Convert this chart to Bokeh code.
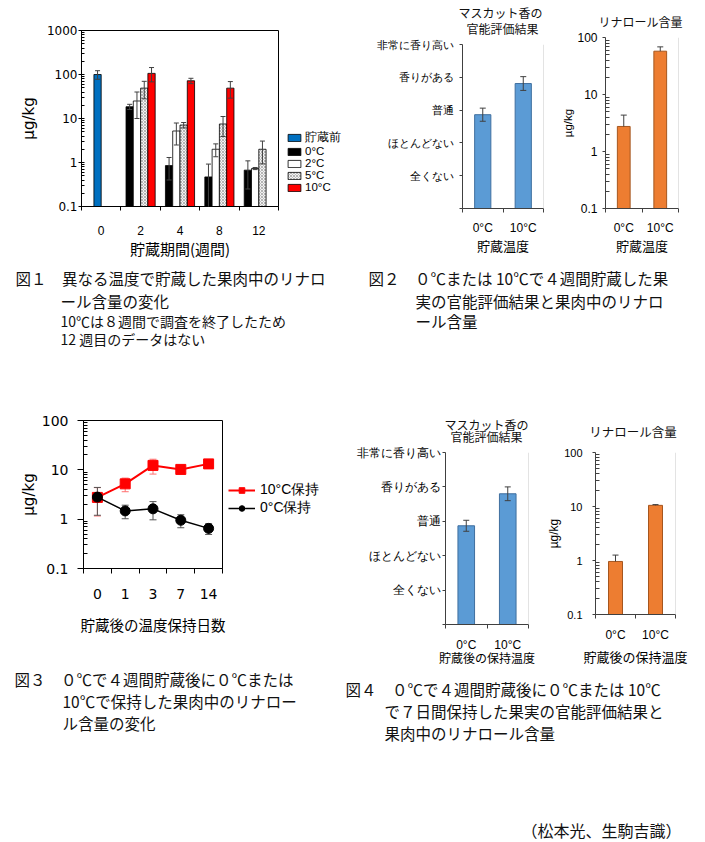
from bokeh.plotting import figure
from bokeh.models import (Range1d, FixedTicker, NumeralTickFormatter, Legend, LegendItem,
                          Whisker, TeeHead, ColumnDataSource, Span, Spacer)
from bokeh.layouts import row, column
from bokeh.embed import file_html
from bokeh.resources import INLINE
from bokeh.core.properties import value

JP = "Noto Sans CJK JP"
NUM = "DejaVu Sans"
LAT = "Liberation Sans"

# ---------------- data ----------------
# Fig.1  linalool (ug/kg) by storage period and temperature
weeks = ["0", "2", "4", "8", "12"]
series1 = ["貯蔵前", "0°C", "2°C", "5°C", "10°C"]
before_val = [100, None, None, None, None]
before_err = [22, None, None, None, None]
c0_val = [None, 18.5, 0.85, 0.47, 0.67]
c0_err = [None, 2.5, 0.45, 0.45, 0.42]
c2_val = [None, 25.0, 5.2, 2.0, 0.73]
c2_err = [None, 15.0, 2.7, 0.65, 0.04]
c5_val = [None, 49.0, 7.1, 7.5, 2.0]
c5_err = [None, 21.0, 1.0, 3.6, 1.07]
c10_val = [None, 106.0, 72.0, 49.0, None]
c10_err = [None, 38.0, 10.0, 20.0, None]

# Fig.2 / Fig.4  sensory score and linalool
sens_levels = ["全くない", "ほとんどない", "普通", "香りがある", "非常に香り高い"]
temps = ["0°C", "10°C"]
fig2_sens_val = [2.86, 3.81]
fig2_sens_err = [0.20, 0.21]
fig2_lin_val = [2.75, 57.5]
fig2_lin_err = [1.6, 11.0]
fig4_sens_val = [2.87, 3.80]
fig4_sens_err = [0.16, 0.20]
fig4_lin_val = [0.96, 10.5]
fig4_lin_err = [0.30, 0.35]

# Fig.3  holding after storage
days = ["0", "1", "3", "7", "14"]
series3 = ["10°C保持", "0°C保持"]
hold10_val = [2.76, 5.2, 12.3, 10.2, 13.2]
hold10_err = [1.6, 1.6, 4.1, 1.0, 1.2]
hold0_val = [2.8, 1.47, 1.62, 0.95, 0.65]
hold0_err = [1.6, 0.45, 0.65, 0.28, 0.16]

cap1 = ["図１　異なる温度で貯蔵した果肉中のリナロ", "ール含量の変化"]
cap1_note = ["10℃は８週間で調査を終了したため", "12 週目のデータはない"]
cap2 = ["図２　０℃または 10℃で４週間貯蔵した果", "実の官能評価結果と果肉中のリナロ", "ール含量"]
cap3 = ["図３　０℃で４週間貯蔵後に０℃または", "10℃で保持した果肉中のリナロー", "ル含量の変化"]
cap4 = ["図４　０℃で４週間貯蔵後に０℃または 10℃", "で７日間保持した果実の官能評価結果と", "果肉中のリナロール含量"]
authors = "（松本光、生駒吉識）"

sens_title = ["マスカット香の", "官能評価結果"]
lin_title = "リナロール含量"
y_unit = "µg/kg"

COMMON = dict(output_backend="svg", toolbar_location=None, frame_align=False)


# ---------------- helpers ----------------
def style_axis(ax, color="#000000"):
    ax.axis_line_color = color
    ax.major_tick_line_color = color
    ax.minor_tick_line_color = color
    ax.major_label_text_color = "#000000"
    ax.axis_label_text_color = "#000000"
    ax.axis_label_text_font_style = "normal"


def log_minor(lo, hi):
    return [m * 10.0 ** e for e in range(lo, hi) for m in range(2, 10)]


def canvas(x0, y0, w, h):
    c = figure(width=w, height=h, x_range=Range1d(x0, x0 + w), y_range=Range1d(y0 + h, y0),
               min_border=0, x_axis_location=None, y_axis_location=None, **COMMON)
    c.grid.visible = False
    c.outline_line_color = None
    return c


def put_text(c, xs, ys, texts, size, align="left", font=JP, color="#111111"):
    c.text(x=xs, y=ys, text=texts, text_font=value(font), text_font_size=value(size),
           text_baseline="middle", text_align=align, text_color=color)


def bar_src(vals, errs, offset, upper_only=False):
    xs, tops, lo, hi = [], [], [], []
    for i, (v, e) in enumerate(zip(vals, errs)):
        if v is None:
            continue
        xs.append(i + offset)
        tops.append(v)
        hi.append(v + e)
        lo.append(v if upper_only else v - e)
    return ColumnDataSource(dict(x=xs, top=tops, lower=lo, upper=hi))


def whisker(src, color, size=5, lower=True, level="annotation"):
    return Whisker(source=src, base="x", upper="upper", lower="lower", dimension="height",
                   line_color=color, line_width=1, level=level,
                   upper_head=TeeHead(size=size, line_color=color, line_width=1),
                   lower_head=TeeHead(size=size, line_color=color, line_width=1) if lower else None)


def legend_panel(w, h):
    f = figure(width=w, height=h, x_range=Range1d(0, 1), y_range=Range1d(0, 1), min_border=0,
               x_axis_location=None, y_axis_location=None, **COMMON)
    f.grid.visible = False
    f.outline_line_color = None
    return f


# off-frame, zero-size placeholders: they only lend their style to legend swatches
OFF = [-10.0]
OFF2 = [-10.0, -9.0]

# ---------------- Fig.1 ----------------
p1 = figure(width=274, height=262, x_range=Range1d(-0.5, 4.5), y_range=Range1d(0.1, 1000),
            y_axis_type="log", min_border_left=73, min_border_right=4, min_border_top=30,
            min_border_bottom=56, **COMMON)
p1.grid.visible = False
p1.outline_line_color = "#000000"

bw = 0.185
bar_styles = [
    dict(fill_color="#0070C0"),
    dict(fill_color="#000000"),
    dict(fill_color="#FFFFFF"),
    dict(fill_color="#F2F2F2", hatch_pattern="x", hatch_scale=3, hatch_color="#8C8C8C",
         hatch_weight=0.6),
    dict(fill_color="#FF0000"),
]
specs = [(before_val, before_err, -0.0925), (c0_val, c0_err, -0.2775),
         (c2_val, c2_err, -0.0925), (c5_val, c5_err, 0.0925), (c10_val, c10_err, 0.2775)]
for (vals, errs, off), sty in zip(specs, bar_styles):
    src = bar_src(vals, errs, off)
    p1.vbar(x="x", top="top", bottom=0.1, width=bw, source=src,
            line_color="#000000", line_width=0.8, **sty)
    p1.add_layout(whisker(src, "#404040", size=5))

p1.xaxis.ticker = FixedTicker(ticks=list(range(len(weeks))),
                              minor_ticks=[i - 0.5 for i in range(len(weeks) + 1)])
p1.xaxis.major_label_overrides = {i: w for i, w in enumerate(weeks)}
p1.xaxis.major_tick_out = 0
p1.xaxis.major_tick_in = 0
p1.xaxis.minor_tick_out = 4
p1.xaxis.minor_tick_in = 0
p1.xaxis.major_label_text_font = LAT
p1.xaxis.major_label_text_font_size = "12px"
p1.xaxis.major_label_standoff = 15
p1.xaxis.axis_label = "貯蔵期間(週間)"
p1.xaxis.axis_label_text_font = JP
p1.xaxis.axis_label_text_font_size = "15px"
p1.xaxis.axis_label_standoff = 0

p1.yaxis.ticker = FixedTicker(ticks=[0.1, 1, 10, 100, 1000], minor_ticks=log_minor(-1, 3))
p1.yaxis.formatter = NumeralTickFormatter(format="0.[0]")
p1.yaxis.major_tick_out = 3
p1.yaxis.major_tick_in = 3
p1.yaxis.minor_tick_out = 0
p1.yaxis.minor_tick_in = 3
p1.yaxis.major_label_text_font = NUM
p1.yaxis.major_label_text_font_size = "12px"
p1.yaxis.major_label_standoff = 1
p1.yaxis.axis_label = y_unit
p1.yaxis.axis_label_text_font = NUM
p1.yaxis.axis_label_text_font_size = "15px"
p1.yaxis.axis_label_standoff = 6
style_axis(p1.xaxis[0])
style_axis(p1.yaxis[0])

lg1 = legend_panel(78, 262)
sw = [lg1.vbar(x=OFF, top=[-10.0], bottom=-10.0, width=0.01, line_color="#000000",
               line_width=0.8, **sty) for sty in bar_styles]
leg1 = Legend(items=[LegendItem(label=s, renderers=[r]) for s, r in zip(series1, sw)],
              location=(4, 69), padding=0, margin=0, spacing=0, label_standoff=3,
              glyph_width=16, glyph_height=9, label_height=9, label_text_font=LAT,
              label_text_font_size="11.5px", label_text_line_height=1.0,
              label_text_color="#000000",
              border_line_color=None, background_fill_alpha=0)
lg1.add_layout(leg1)


# ---------------- sensory / linalool charts ----------------
def sensory_chart(w, h, bl, br, bt, bb, vals, errs, ysize, ystand, xstand, xlab_size, xlab_stand):
    p = figure(width=w, height=h, x_range=Range1d(-0.5, 1.5), y_range=Range1d(0, 5),
               min_border_left=bl, min_border_right=br, min_border_top=bt, min_border_bottom=bb,
               **COMMON)
    p.grid.visible = False
    p.outline_line_color = None
    src = bar_src(vals, errs, 0)
    p.vbar(x="x", top="top", bottom=0, width=0.4, source=src,
           fill_color="#5B9BD5", line_color="#3F6F9F", line_width=1)
    p.add_layout(whisker(src, "#404040", size=6))
    p.add_layout(Span(location=1.5, dimension="height", line_color="#C8C8C8", line_width=1))
    p.yaxis.ticker = FixedTicker(ticks=list(range(len(sens_levels) + 1)), minor_ticks=[])
    ov = {0: ""}
    ov.update({i + 1: s for i, s in enumerate(sens_levels)})
    p.yaxis.major_label_overrides = ov
    p.yaxis.major_tick_out = 3
    p.yaxis.major_tick_in = 0
    p.yaxis.major_label_text_font = LAT
    p.yaxis.major_label_text_font_size = ysize
    p.yaxis.major_label_standoff = ystand
    p.xaxis.ticker = FixedTicker(ticks=[0, 1], minor_ticks=[-0.5, 0.5, 1.5])
    p.xaxis.major_label_overrides = {i: t for i, t in enumerate(temps)}
    p.xaxis.major_tick_out = 0
    p.xaxis.major_tick_in = 0
    p.xaxis.minor_tick_out = 4
    p.xaxis.minor_tick_in = 0
    p.xaxis.major_label_text_font = LAT
    p.xaxis.major_label_text_font_size = "12px"
    p.xaxis.major_label_standoff = xstand
    p.xaxis.axis_label_text_font = JP
    p.xaxis.axis_label_text_font_size = xlab_size
    p.xaxis.axis_label_standoff = xlab_stand
    style_axis(p.xaxis[0], "#404040")
    style_axis(p.yaxis[0], "#404040")
    return p


def linalool_chart(w, h, bl, br, bt, bb, vals, errs, ysize, ystand, ylab_size, xstand,
                   xlab_size, xlab_stand):
    p = figure(width=w, height=h, x_range=Range1d(-0.5, 1.5), y_range=Range1d(0.1, 100),
               y_axis_type="log", min_border_left=bl, min_border_right=br, min_border_top=bt,
               min_border_bottom=bb, **COMMON)
    p.grid.visible = False
    p.outline_line_color = None
    src = bar_src(vals, errs, 0, upper_only=True)
    p.vbar(x="x", top="top", bottom=0.1, width=0.35, source=src,
           fill_color="#ED7D31", line_color="#A5561F", line_width=1)
    p.add_layout(whisker(src, "#404040", size=6, lower=False))
    p.add_layout(Span(location=1.5, dimension="height", line_color="#C8C8C8", line_width=1))
    p.yaxis.ticker = FixedTicker(ticks=[0.1, 1, 10, 100], minor_ticks=log_minor(-1, 2))
    p.yaxis.formatter = NumeralTickFormatter(format="0.[0]")
    p.yaxis.major_tick_out = 3
    p.yaxis.major_tick_in = 0
    p.yaxis.minor_tick_out = 0
    p.yaxis.minor_tick_in = 4
    p.yaxis.major_label_text_font = LAT
    p.yaxis.major_label_text_font_size = ysize
    p.yaxis.major_label_standoff = ystand
    p.yaxis.axis_label = y_unit
    p.yaxis.axis_label_text_font = LAT
    p.yaxis.axis_label_text_font_size = ylab_size
    p.yaxis.axis_label_standoff = 0
    p.xaxis.ticker = FixedTicker(ticks=[0, 1], minor_ticks=[-0.5, 0.5, 1.5])
    p.xaxis.major_label_overrides = {i: t for i, t in enumerate(temps)}
    p.xaxis.major_tick_out = 0
    p.xaxis.major_tick_in = 0
    p.xaxis.minor_tick_out = 4
    p.xaxis.minor_tick_in = 0
    p.xaxis.major_label_text_font = LAT
    p.xaxis.major_label_text_font_size = "12px"
    p.xaxis.major_label_standoff = xstand
    p.xaxis.axis_label_text_font = JP
    p.xaxis.axis_label_text_font_size = xlab_size
    p.xaxis.axis_label_standoff = xlab_stand
    style_axis(p.xaxis[0], "#404040")
    style_axis(p.yaxis[0], "#404040")
    return p


# Fig.2  (page rows 0..262): title strip + chart
t2a = canvas(360, 0, 199, 37)
put_text(t2a, [500, 502], [12, 27.5], sens_title, "12px", align="center")
p2a = sensory_chart(199, 225, 102, 16, 7, 54, fig2_sens_val, fig2_sens_err, "11px", 6, 8, "13px", -2)
p2a.xaxis.axis_label = "貯蔵温度"

t2b = canvas(559, 0, 138, 30)
put_text(t2b, [640], [21], [lin_title], "12px", align="center")
p2b = linalool_chart(138, 232, 42, 19, 7, 54, fig2_lin_val, fig2_lin_err, "12px", 5, "11.5px", 8, "13px", -2)
p2b.xaxis.axis_label = "貯蔵温度"

# Fig.4  (page rows 400..668)
t4a = canvas(340, 400, 204, 45)
put_text(t4a, [486, 486], [423.5, 436], sens_title, "12px", align="center")
p4a = sensory_chart(204, 223, 105, 16, 7, 44, fig4_sens_val, fig4_sens_err, "12px", 2, 9, "12px", -6)
p4a.xaxis.axis_label = "貯蔵後の保持温度"

t4b = canvas(544, 400, 153, 45)
put_text(t4b, [632.5], [430.7], [lin_title], "12.5px", align="center")
p4b = linalool_chart(153, 223, 46, 22, 7, 43, fig4_lin_val, fig4_lin_err, "11px", 10, "12px", 9, "13px", 2)
p4b.xaxis.axis_label = "貯蔵後の保持温度"

# ---------------- Fig.3 ----------------
p3 = figure(width=218, height=268, x_range=Range1d(-0.5, 4.5), y_range=Range1d(0.1, 100),
            y_axis_type="log", min_border_left=75, min_border_right=4, min_border_top=20,
            min_border_bottom=100, **COMMON)
p3.grid.visible = False
p3.outline_line_color = "#000000"

x3 = list(range(len(days)))
s10 = ColumnDataSource(dict(x=x3, y=hold10_val,
                            lower=[v - e for v, e in zip(hold10_val, hold10_err)],
                            upper=[v + e for v, e in zip(hold10_val, hold10_err)]))
s0 = ColumnDataSource(dict(x=x3, y=hold0_val,
                           lower=[v - e for v, e in zip(hold0_val, hold0_err)],
                           upper=[v + e for v, e in zip(hold0_val, hold0_err)]))
p3.add_layout(whisker(s10, "#FF7070", size=7, level="underlay"))
p3.add_layout(whisker(s0, "#555555", size=7, level="underlay"))
red_line = dict(line_color="#FF0000", line_width=2)
red_mark = dict(marker="square", size=10, fill_color="#FF0000", line_color="#FF0000")
blk_line = dict(line_color="#000000", line_width=1.5)
blk_mark = dict(marker="circle", size=10, fill_color="#000000", line_color="#000000")
p3.line(x="x", y="y", source=s10, **red_line)
p3.scatter(x="x", y="y", source=s10, **red_mark)
p3.line(x="x", y="y", source=s0, **blk_line)
p3.scatter(x="x", y="y", source=s0, **blk_mark)

p3.xaxis.ticker = FixedTicker(ticks=x3, minor_ticks=[i - 0.5 for i in range(len(days) + 1)])
p3.xaxis.major_label_overrides = {i: d for i, d in enumerate(days)}
p3.xaxis.major_tick_out = 0
p3.xaxis.major_tick_in = 0
p3.xaxis.minor_tick_out = 5
p3.xaxis.minor_tick_in = 0
p3.xaxis.major_label_text_font = NUM
p3.xaxis.major_label_text_font_size = "14px"
p3.xaxis.major_label_standoff = 15
p3.xaxis.axis_label = "貯蔵後の温度保持日数"
p3.xaxis.axis_label_text_font = JP
p3.xaxis.axis_label_text_font_size = "14.5px"
p3.xaxis.axis_label_standoff = 12

p3.yaxis.ticker = FixedTicker(ticks=[0.1, 1, 10, 100], minor_ticks=log_minor(-1, 2))
p3.yaxis.formatter = NumeralTickFormatter(format="0.[0]")
p3.yaxis.major_tick_out = 6
p3.yaxis.major_tick_in = 0
p3.yaxis.minor_tick_out = 0
p3.yaxis.minor_tick_in = 4
p3.yaxis.major_label_text_font = NUM
p3.yaxis.major_label_text_font_size = "14px"
p3.yaxis.major_label_standoff = 9
p3.yaxis.axis_label = y_unit
p3.yaxis.axis_label_text_font = NUM
p3.yaxis.axis_label_text_font_size = "15px"
p3.yaxis.axis_label_standoff = 1
style_axis(p3.xaxis[0])
style_axis(p3.yaxis[0])

lg3 = legend_panel(114, 268)
ra = [lg3.line(x=OFF2, y=[-10.0, -10.0], **red_line), lg3.scatter(x=OFF, y=[-10.0], **red_mark)]
rb = [lg3.line(x=OFF2, y=[-10.0, -10.0], **blk_line), lg3.scatter(x=OFF, y=[-10.0], **blk_mark)]
leg3 = Legend(items=[LegendItem(label=series3[0], renderers=ra),
                     LegendItem(label=series3[1], renderers=rb)],
              location=(2, 151), padding=0, margin=0, spacing=0, label_standoff=5,
              glyph_width=27, glyph_height=14, label_height=14, label_text_font=LAT,
              label_text_font_size="14px", label_text_line_height=1.0,
              label_text_color="#000000",
              border_line_color=None, background_fill_alpha=0)
lg3.add_layout(leg3)

# ---------------- captions ----------------
c1 = canvas(8, 262, 689, 138)
put_text(c1, [15], [277], [cap1[0]], "15.5px")
put_text(c1, [60], [300], [cap1[1]], "15.5px")
put_text(c1, [60, 60], [320, 338], cap1_note, "14px")
put_text(c1, [368], [277], [cap2[0]], "15.5px")
put_text(c1, [415, 415], [300, 320], cap2[1:], "15.5px")

c2 = canvas(8, 668, 689, 174)
put_text(c2, [14], [678], [cap3[0]], "15.5px")
put_text(c2, [62, 62], [700, 722], cap3[1:], "15.5px")
put_text(c2, [345], [688], [cap4[0]], "15.5px")
put_text(c2, [384, 384], [710, 732], cap4[1:], "15.5px")
put_text(c2, [521], [829], [authors], "16px")

top = row(p1, lg1, column(t2a, p2a), column(t2b, p2b))
mid = row(p3, lg3, column(t4a, p4a), column(t4b, p4b))
body = column(top, c1, mid, c2)
layout = row(Spacer(width=8, height=842), body)

open("out.html", "w").write(file_html(layout, INLINE))
